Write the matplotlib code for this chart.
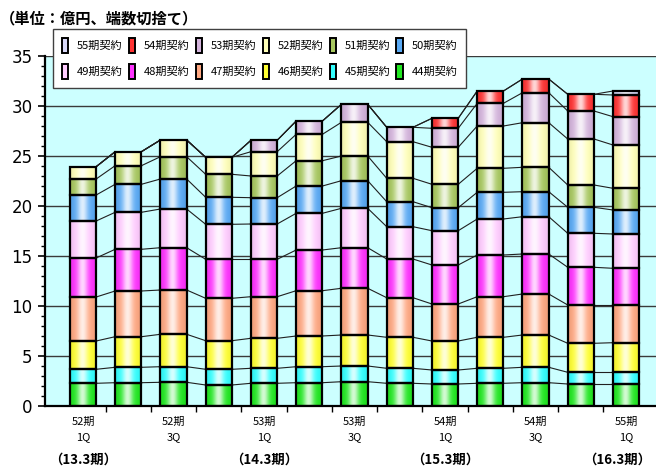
import numpy as np
import matplotlib
matplotlib.use("Agg")
import matplotlib.pyplot as plt
from matplotlib.colors import to_rgb
from matplotlib.patches import Rectangle, Patch

plt.rcParams["font.family"] = ["DejaVu Sans", "Noto Sans CJK JP"]
CJK = ["Noto Sans CJK JP", "DejaVu Sans"]

# quarter labels under each bar (blank for 2Q/4Q bars)
period_labels = ["52期\n1Q", "", "52期\n3Q", "", "53期\n1Q", "", "53期\n3Q", "",
                 "54期\n1Q", "", "54期\n3Q", "", "55期\n1Q"]
fiscal_labels = ["（13.3期）", "", "", "", "（14.3期）", "", "", "",
                 "（15.3期）", "", "", "", "（16.3期）"]

series_names = ["44期契約", "45期契約", "46期契約", "47期契約", "48期契約", "49期契約",
                "50期契約", "51期契約", "52期契約", "53期契約", "54期契約", "55期契約"]
series_colors = ["#22E822", "#33FFFF", "#FFFF33", "#FFA882", "#FF33FF", "#FFCCFF",
                 "#5AAAF5", "#A8C860", "#FFFFB8", "#D4B4DC", "#FF3333", "#D8D8F8"]

# amounts (億円) per contract series, one value per quarter
s44 = [2.27, 2.33, 2.37, 2.10, 2.27, 2.33, 2.43, 2.27, 2.20, 2.27, 2.33, 2.20, 2.20]
s45 = [1.40, 1.54, 1.56, 1.57, 1.50, 1.60, 1.57, 1.50, 1.40, 1.50, 1.54, 1.17, 1.17]
s46 = [2.83, 3.06, 3.24, 2.86, 3.00, 3.07, 3.10, 3.10, 2.90, 3.10, 3.23, 2.90, 2.96]
s47 = [4.40, 4.57, 4.43, 4.24, 4.16, 4.53, 4.67, 3.96, 3.70, 4.06, 4.10, 3.83, 3.77]
s48 = [3.90, 4.17, 4.23, 3.90, 3.74, 4.07, 4.06, 3.87, 3.90, 4.17, 4.00, 3.77, 3.67]
s49 = [3.70, 3.70, 3.87, 3.50, 3.53, 3.67, 3.94, 3.23, 3.43, 3.60, 3.73, 3.40, 3.43]
s50 = [2.60, 2.80, 3.00, 2.70, 2.63, 2.73, 2.76, 2.50, 2.30, 2.67, 2.50, 2.60, 2.40]
s51 = [1.60, 1.86, 2.23, 2.30, 2.17, 2.53, 2.47, 2.34, 2.34, 2.40, 2.44, 2.23, 2.17]
s52 = [1.23, 1.40, 1.67, 1.70, 2.43, 2.64, 3.37, 3.66, 3.70, 4.23, 4.46, 4.60, 4.33]
s53 = [0, 0, 0, 0, 1.14, 1.33, 1.80, 1.44, 1.90, 2.27, 3.00, 2.80, 2.83]
s54 = [0, 0, 0, 0, 0, 0, 0, 0, 1.00, 1.23, 1.37, 1.67, 2.17]
s55 = [0, 0, 0, 0, 0, 0, 0, 0, 0, 0, 0, 0, 0.40]

series = [s44, s45, s46, s47, s48, s49, s50, s51, s52, s53, s54, s55]
data = np.array(series, dtype=float)
n = data.shape[1]
x = np.arange(n)
width = 0.58

W, H = 656, 466
fig = plt.figure(figsize=(W / 100, H / 100), dpi=100)
ax = fig.add_axes([45 / W, 60 / H, (656 - 45) / W, 350 / H])
ax.set_facecolor("#CCFFFF")


def gradient_rgb(color, m=64):
    """Horizontal shading across a bar: base colour at the sides, pale in the middle."""
    base = np.array(to_rgb(color))
    t = np.linspace(0, 1, m)
    f = 0.8 * np.exp(-((t - 0.47) / 0.2) ** 2)
    edge = 1 - 0.08 * (np.abs(t - 0.5) * 2) ** 3
    rgb = base[None, :] * edge[:, None]
    rgb = rgb * (1 - f[:, None]) + f[:, None]
    return np.clip(rgb, 0, 1)[None, :, :]


bottoms = np.zeros(n)
tops_by_series = []
for k, vals in enumerate(data):
    img = gradient_rgb(series_colors[k])
    for i in range(n):
        v = vals[i]
        if v <= 0:
            continue
        x0, x1 = x[i] - width / 2, x[i] + width / 2
        y0, y1 = bottoms[i], bottoms[i] + v
        ax.imshow(img, extent=(x0, x1, y0, y1), aspect="auto",
                  interpolation="bilinear", zorder=2)
        ax.add_patch(Rectangle((x0, y0), width, v, facecolor="none",
                               edgecolor="black", linewidth=1.6, zorder=3))
    bottoms = bottoms + vals
    tops_by_series.append(bottoms.copy())

# series lines joining the segment tops of neighbouring bars
for tops in tops_by_series:
    for i in range(n - 1):
        ax.plot([x[i] + width / 2, x[i + 1] - width / 2], [tops[i], tops[i + 1]],
                color="#202020", linewidth=0.8, zorder=1.5)

# gridlines
for gy in range(5, 36, 5):
    ax.axhline(gy, color="#3A3A3A", linewidth=1.0, zorder=1)

ax.set_xlim(-0.84, 12.66)
ax.set_ylim(0, 35)

ax.set_yticks(np.arange(0, 36, 5))
ax.set_yticks(np.arange(0, 36, 1), minor=True)
ax.tick_params(axis="y", which="major", labelsize=12, length=5, width=1.2, pad=4)
ax.tick_params(axis="y", which="minor", length=3, width=1.0)

ax.set_xticks(np.arange(0.5, n - 0.5, 1))
ax.set_xticklabels([])
ax.tick_params(axis="x", which="major", length=4, width=1.0)
ax.set_xticks(x, labels=period_labels, minor=True)
ax.tick_params(axis="x", which="minor", length=0, labelsize=8, pad=8)
for lab in ax.get_xticklabels(minor=True):
    lab.set_linespacing(1.6)
    lab.set_family(CJK)

for i, fl in enumerate(fiscal_labels):
    if fl:
        # keep the last label inside the figure's right edge
        dx = -9 if i == n - 1 else 0
        ax.annotate(fl, xy=(x[i], 0), xycoords=("data", "axes fraction"),
                    xytext=(dx, -54), textcoords="offset pixels",
                    ha="center", va="center", fontsize=9.6, fontweight="bold",
                    family=CJK)

for side in ("top", "right"):
    ax.spines[side].set_visible(False)
ax.spines["left"].set_linewidth(1.6)
ax.spines["bottom"].set_linewidth(1.6)
ax.spines["left"].set_zorder(4)
ax.spines["bottom"].set_zorder(4)

fig.text(0, 1 - 18 / H, "（単位：億円、端数切捨て）", fontsize=11,
         fontweight="bold", ha="left", va="center", family=CJK)

# legend: 55 → 50 on the first row, 49 → 44 on the second
order = [11, 10, 9, 8, 7, 6, 5, 4, 3, 2, 1, 0]
handles = [Patch(facecolor=series_colors[k], edgecolor="black", linewidth=1.4,
                 label=series_names[k]) for k in order]
# ncol fills column-wise, so interleave the two rows
rows = [handles[:6], handles[6:]]
col_major = [rows[r][c] for c in range(6) for r in range(2)]
leg = fig.legend(handles=col_major, ncol=6, loc="upper left",
                 bbox_to_anchor=(53 / W, 1 - 29 / H), bbox_transform=fig.transFigure,
                 prop={"family": CJK, "size": 8},
                 handlelength=0.55, handleheight=1.75, handletextpad=0.8,
                 columnspacing=0.55, labelspacing=0.95, borderpad=0.8,
                 fancybox=False, framealpha=1, edgecolor="#404040", borderaxespad=0)
leg.get_frame().set_linewidth(1.0)
leg.set_zorder(10)

fig.savefig("out.png", dpi=100)
